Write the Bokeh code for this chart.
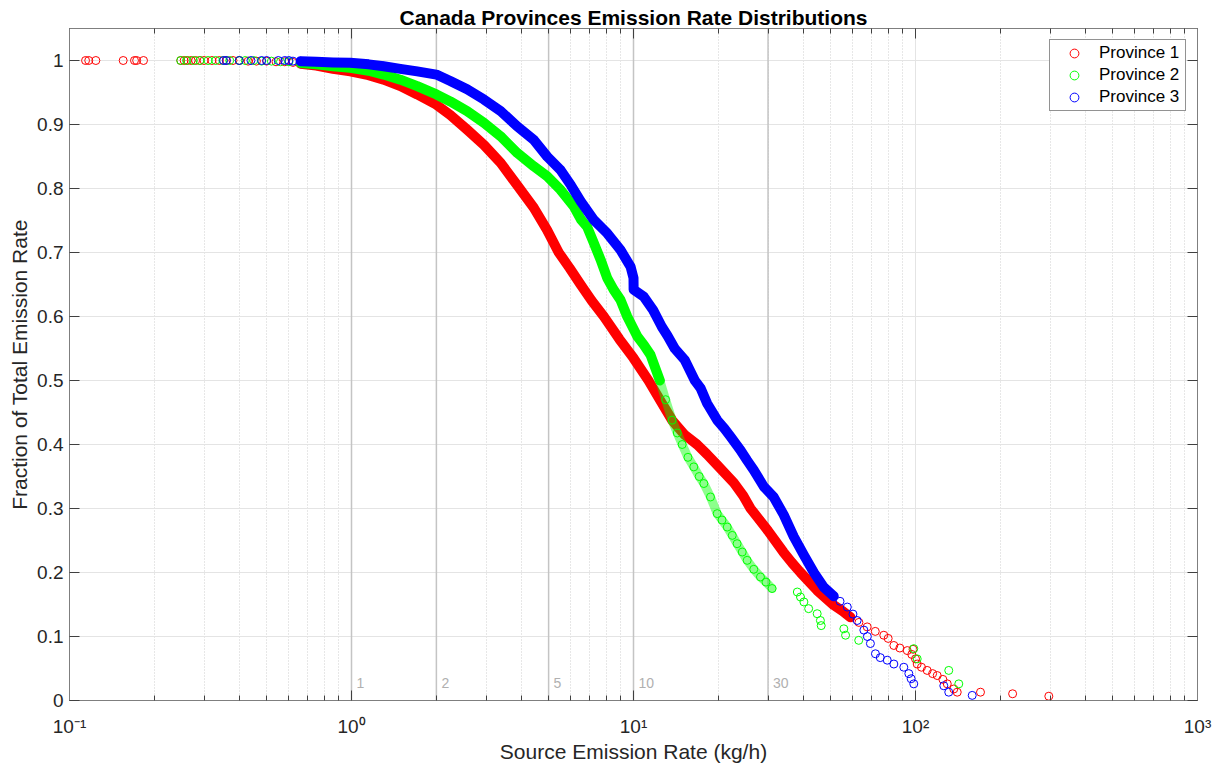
from bokeh.plotting import figure
from bokeh.models import (Range1d, FixedTicker, LogAxis, LinearAxis, CustomJSTickFormatter,
                          Span, Legend, LegendItem)
from bokeh.core.properties import value
from bokeh.embed import file_html
from bokeh.resources import INLINE

# ---------------- data ----------------
title_text = "Canada Provinces Emission Rate Distributions"
x_label = "Source Emission Rate (kg/h)"
y_label = "Fraction of Total Emission Rate"
series_names = ["Province 1", "Province 2", "Province 3"]
series_colors = ["#ff0000", "#00ff00", "#0000ff"]

p1_x = [0.114, 0.117, 0.124, 0.155, 0.170, 0.173, 0.183, 0.248, 0.255, 0.262, 0.270, 0.280,
        0.29, 0.30, 0.32, 0.34, 0.36, 0.38, 0.40, 0.43, 0.46, 0.50, 0.54, 0.58, 0.62,
        0.66, 0.75, 0.86, 0.99, 1.15, 1.30, 1.49, 1.71, 2.0, 2.24, 2.57, 2.95, 3.38, 3.87,
        4.43, 4.94, 5.43, 5.95, 6.49, 7.1, 7.85, 8.9, 10.0, 11.3, 12.4, 13.7, 15.2, 16.8,
        18.2, 19.8, 22.7, 24.5, 26.0, 28.0, 30.0, 34.0, 36.5, 39.1, 44.8, 51.3, 55.0, 58.8,
        63.0, 67.4, 72.0, 77.2, 80.0, 83.8, 88.0, 93.5, 97.0, 98.0, 100.0, 101.4, 105.0,
        110.0, 115.0, 119.4, 125.0, 129.6, 136.7, 140.6, 170.0, 221.0, 297.0]
p1_y = [1.0, 1.0, 1.0, 1.0, 1.0, 1.0, 1.0, 1.0, 1.0, 1.0, 1.0, 1.0,
        1.0, 1.0, 1.0, 1.0, 1.0, 1.0, 1.0, 0.999, 0.999, 0.999, 0.998, 0.998, 0.997,
        0.995, 0.992, 0.987, 0.983, 0.977, 0.970, 0.960, 0.947, 0.931, 0.915, 0.892, 0.868, 0.840, 0.805,
        0.770, 0.735, 0.700, 0.675, 0.650, 0.625, 0.600, 0.565, 0.535, 0.500, 0.470, 0.438, 0.415, 0.400,
        0.385, 0.368, 0.340, 0.320, 0.300, 0.282, 0.265, 0.232, 0.215, 0.200, 0.172, 0.149, 0.140, 0.130,
        0.122, 0.115, 0.108, 0.102, 0.097, 0.086, 0.082, 0.078, 0.072, 0.080, 0.065, 0.057, 0.052,
        0.047, 0.042, 0.039, 0.033, 0.026, 0.018, 0.013, 0.013, 0.0105, 0.0067]

p2_x = [0.248, 0.26, 0.275, 0.29, 0.31, 0.33, 0.35, 0.37, 0.40, 0.42, 0.45, 0.48, 0.52, 0.56, 0.60,
        0.66, 0.75, 0.86, 0.99, 1.15, 1.30, 1.49, 1.71, 2.0, 2.24, 2.57, 2.95, 3.38, 3.87, 4.43,
        4.94, 5.51, 6.14, 6.5, 6.85, 7.23, 7.64, 8.07, 8.5, 8.99, 9.5, 10.31, 10.9, 11.49, 12.4,
        13.0, 13.7, 14.3, 14.88, 15.6, 16.36, 17.1, 17.76, 18.75, 19.81, 20.6, 21.5, 22.4, 23.3,
        24.3, 25.3, 26.7, 28.2, 29.5, 31.0,
        38.1, 39.1, 40.2, 41.8, 44.8, 46.0, 46.3, 55.7, 56.5, 62.9, 98.6, 101.4, 131.2, 142.4]
p2_y = [1.0, 1.0, 1.0, 1.0, 1.0, 1.0, 1.0, 1.0, 1.0, 1.0, 1.0, 0.999, 0.999, 0.998, 0.998,
        0.996, 0.994, 0.991, 0.9885, 0.984, 0.978, 0.970, 0.960, 0.947, 0.936, 0.921, 0.9025, 0.8815, 0.8555, 0.8346,
        0.819, 0.798, 0.772, 0.752, 0.740, 0.715, 0.689, 0.660, 0.642, 0.626, 0.600, 0.569, 0.555, 0.540, 0.500,
        0.470, 0.438, 0.418, 0.400, 0.380, 0.365, 0.350, 0.339, 0.318, 0.292, 0.282, 0.271, 0.258, 0.245,
        0.232, 0.219, 0.205, 0.193, 0.185, 0.175,
        0.1695, 0.1617, 0.154, 0.1435, 0.1356, 0.125, 0.117, 0.112, 0.102, 0.094, 0.081, 0.065, 0.047, 0.026]

p3_x = [0.352, 0.36, 0.40, 0.44, 0.48, 0.50, 0.55, 0.58, 0.60, 0.62,
        0.66, 0.75, 0.86, 0.99, 1.15, 1.30, 1.49, 1.71, 2.0, 2.24, 2.57, 2.95, 3.38, 3.87, 4.43,
        4.94, 5.51, 6.0, 6.5, 7.23, 8.07, 8.99, 9.76, 10.0, 10.01, 10.87, 11.74, 12.6, 13.2, 14.0,
        15.2, 16.5, 17.3, 18.25, 19.81, 21.0, 22.1, 23.96, 25.3, 26.7, 29.0, 31.4, 34.1, 37.0,
        40.2, 43.6, 47.3, 51.3,
        54.0, 57.3, 60.0, 62.1, 65.6, 67.5, 69.2, 72.1, 75.0, 79.4, 83.8, 90.9, 94.7, 96.5, 98.6,
        126.0, 131.2, 158.9]
p3_y = [1.0, 1.0, 1.0, 1.0, 1.0, 1.0, 1.0, 1.0, 1.0, 0.999,
        0.999, 0.998, 0.997, 0.9965, 0.994, 0.991, 0.987, 0.983, 0.978, 0.968, 0.955, 0.939, 0.921, 0.897, 0.876,
        0.850, 0.829, 0.805, 0.780, 0.751, 0.730, 0.704, 0.678, 0.660, 0.642, 0.631, 0.610, 0.584, 0.570, 0.550,
        0.532, 0.500, 0.488, 0.464, 0.438, 0.425, 0.412, 0.391, 0.375, 0.360, 0.334, 0.318, 0.290, 0.256,
        0.227, 0.200, 0.177, 0.163,
        0.155, 0.146, 0.135, 0.125, 0.110, 0.100, 0.089, 0.073, 0.067, 0.063, 0.057, 0.052, 0.042, 0.034, 0.026,
        0.023, 0.013, 0.008]

ref_lines = [1, 2, 5, 10, 30]
ref_labels = ["1", "2", "5", "10", "30"]
ref_label_y = 0.028

x_major = [0.1, 1, 10, 100, 1000]
y_ticks = [0, 0.1, 0.2, 0.3, 0.4, 0.5, 0.6, 0.7, 0.8, 0.9, 1.0]

# ---------------- style ----------------
FONT = "Liberation Sans"
TXT = "#262626"
AXC = "#7f7f7f"
band_start = 0.64            # where overlapping markers merge into a solid band
band_end = [60, 12.4, 52]    # per series, end of solid band
green_light_end = 31.5       # green band made of loosely overlapping circles

x_minor = [m * 10.0 ** e for e in range(-1, 3) for m in range(2, 10)]

p = figure(width=1217, height=765, x_axis_type="log",
           x_range=Range1d(0.1, 1000), y_range=Range1d(0, 1.05),
           min_border_left=69, min_border_right=20, min_border_top=28, min_border_bottom=65,
           output_backend="svg", toolbar_location=None,
           background_fill_color="white", border_fill_color="white")
p.outline_line_color = AXC
p.outline_line_width = 1

p.title.text = title_text
p.title.align = "center"
p.title.text_font = FONT
p.title.text_font_size = "21px"
p.title.text_font_style = "bold"
p.title.text_color = "#000000"
p.title.standoff = 0

xt = FixedTicker(ticks=x_major, minor_ticks=x_minor)
yt = FixedTicker(ticks=y_ticks)

# grids
p.xgrid.ticker = xt
p.xgrid.grid_line_color = "#e4e4e4"
p.xgrid.minor_grid_line_color = "#cfcfcf"
p.xgrid.minor_grid_line_dash = "1 2"
p.ygrid.ticker = yt
p.ygrid.grid_line_color = "#e4e4e4"

xfmt = CustomJSTickFormatter(code="""
const e = Math.round(Math.log10(tick));
const sup = {"-": "\u207b", "0": "\u2070", "1": "\u00b9", "2": "\u00b2", "3": "\u00b3"};
return "10" + String(e).split("").map(c => sup[c]).join("");
""")
yfmt = CustomJSTickFormatter(code="""
if (Math.abs(tick - Math.round(tick)) < 1e-9) return String(Math.round(tick));
return tick.toFixed(1);
""")
blank = CustomJSTickFormatter(code="return '';")

def style_axis(ax):
    ax.axis_line_color = AXC
    ax.major_tick_line_color = "#404040"
    ax.minor_tick_line_color = "#404040"
    ax.major_tick_in = 10
    ax.major_tick_out = 0
    ax.minor_tick_in = 5
    ax.minor_tick_out = 0
    ax.major_label_text_font = FONT
    ax.major_label_text_color = TXT
    ax.major_label_text_font_size = "19px"
    ax.axis_label_text_font = FONT
    ax.axis_label_text_color = TXT
    ax.axis_label_text_font_size = "21px"
    ax.axis_label_text_font_style = "normal"

xa = p.xaxis[0]
xa.ticker = xt
xa.formatter = xfmt
xa.axis_label = x_label
style_axis(xa)
xa.major_label_standoff = 15
xa.axis_label_standoff = 0

ya = p.yaxis[0]
ya.ticker = yt
ya.formatter = yfmt
ya.axis_label = y_label
style_axis(ya)
ya.minor_tick_line_color = None
ya.major_label_standoff = 6
ya.axis_label_standoff = 3

top = LogAxis(ticker=xt, formatter=blank)
style_axis(top)
top.major_label_text_font_size = "1px"
top.major_label_standoff = 0
p.add_layout(top, "above")

right = LinearAxis(ticker=yt, formatter=blank)
style_axis(right)
right.minor_tick_line_color = None
right.major_label_text_font_size = "1px"
right.major_label_standoff = 0
p.add_layout(right, "right")

# reference vertical lines and their labels
for v in ref_lines:
    p.add_layout(Span(location=v, dimension="height", line_color="#c4c4c4",
                      line_width=1.5, level="underlay"))
p.text(x=ref_lines, y=[ref_label_y] * len(ref_lines), text=ref_labels,
       text_font=value(FONT), text_font_size="14px", text_color="#b0b0b0",
       x_offset=5, text_baseline="middle", text_align="left")

# series
all_x = [p1_x, p2_x, p3_x]
all_y = [p1_y, p2_y, p3_y]
legend_items = []
for i, (xs, ys) in enumerate(zip(all_x, all_y)):
    col = series_colors[i]
    bx = [x for x in xs if band_start <= x <= band_end[i]]
    by = [y for x, y in zip(xs, ys) if band_start <= x <= band_end[i]]
    p.line(bx, by, line_color=col, line_width=10, line_join="round", line_cap="round")
    if i == 1:
        lx = [x for x in xs if band_end[i] <= x <= green_light_end]
        ly = [y for x, y in zip(xs, ys) if band_end[i] <= x <= green_light_end]
        p.line(lx, ly, line_color=col, line_width=9, line_alpha=0.45,
               line_join="round", line_cap="round")
    r = p.scatter(xs, ys, marker="circle", size=8, fill_color=None,
                  line_color=col, line_width=1)
    legend_items.append(LegendItem(label=series_names[i], renderers=[r]))

legend = Legend(items=legend_items, location="top_right")
legend.margin = 11
legend.padding = 2
legend.spacing = 0
legend.glyph_width = 44
legend.glyph_height = 22
legend.label_height = 22
legend.label_width = 84
legend.label_standoff = 3
legend.label_text_font = FONT
legend.label_text_font_size = "17px"
legend.label_text_color = "#000000"
legend.border_line_color = "#262626"
legend.border_line_width = 1
legend.background_fill_color = "white"
legend.background_fill_alpha = 1.0
p.add_layout(legend)

open("out.html", "w").write(file_html(p, INLINE))
